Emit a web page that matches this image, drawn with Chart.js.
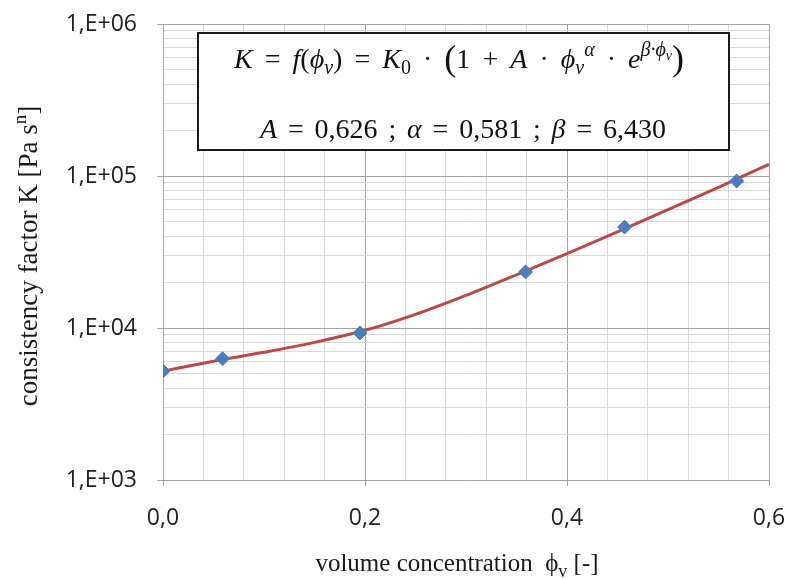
<!DOCTYPE html>
<html>
<head>
<meta charset="utf-8">
<script src="https://cdn.jsdelivr.net/npm/chart.js@4"></script>
<style>
  html, body { margin: 0; padding: 0; background: #fff; }
  canvas { display: block; }
</style>
</head>
<body>
<canvas id="kChart" width="789" height="579"></canvas>
<script>
// measured points (blue diamonds)
const phiMeasured = [0, 0.059, 0.195, 0.359, 0.457, 0.568];
const kMeasured = [5210, 6280, 9270, 23400, 46100, 92700];

// fitted curve, values
const phiCurve = [0, 0.05, 0.1, 0.15, 0.2, 0.25, 0.3, 0.35, 0.4, 0.45, 0.5, 0.55, 0.6];
const kCurve = [5200, 6050, 6920, 8040, 9660, 12300, 16400, 22400, 30900, 42900, 60000, 84300, 119400];

// tick labels
const xMajorTicks = [0, 0.2, 0.4, 0.6];
const xTickLabels = ['0,0', '0,2', '0,4', '0,6'];
const yMajorTicks = [1e3, 1e4, 1e5, 1e6];
const yTickLabels = ['1,E+03', '1,E+04', '1,E+05', '1,E+06'];

// gridline positions (every 0.04 on x, 1..9 per decade on y)
const xGrid = [];
for (let i = 0; i <= 15; i++) xGrid.push(Math.round(i * 4) / 100);
const yGrid = [];
for (let e = 3; e < 6; e++) {
    for (let m = 1; m < 10; m++) yGrid.push(m * Math.pow(10, e));
}
yGrid.push(1e6);

const xMajorIndex = v => xMajorTicks.findIndex(t => Math.abs(t - v) < 1e-9);
const yMajorIndex = v => yMajorTicks.findIndex(t => Math.abs(t - v) < 1e-6);

const minorGrid = '#d9d9d9';
const majorGrid = '#a3a3a3';
const serif = "'Liberation Serif', 'DejaVu Serif', serif";

// small helper to draw text with sub/superscripts
const n = t => ({ t });
const it = t => ({ t, it: true });
const sub = (t, i) => ({ t, it: i, sc: 0.7, dy: 0.22 });
const sup = (t, i) => ({ t, it: i, sc: 0.7, dy: -0.42 });
const big = t => ({ t, sc: 1.3, dy: 0.06 });

function drawRich(c, parts, cx, baseY, size, width) {
    const fontOf = p => (p.it ? 'italic ' : '') + Math.round(size * (p.sc || 1)) + 'px ' + serif;
    let used = 0, gaps = 0;
    parts.forEach(p => {
        if (p === ' ') { gaps++; return; }
        c.font = fontOf(p);
        p.w = c.measureText(p.t).width;
        used += p.w;
    });
    const gap = width ? (width - used) / gaps : size * 0.25;
    let x = cx - (used + gap * gaps) / 2;
    c.textAlign = 'left';
    c.textBaseline = 'alphabetic';
    parts.forEach(p => {
        if (p === ' ') { x += gap; return; }
        c.font = fontOf(p);
        c.fillText(p.t, x, baseY + (p.dy || 0) * size);
        x += p.w;
    });
}

// formula box and axis titles
const extras = {
    id: 'extras',
    afterDraw(chart) {
        const c = chart.ctx;
        c.save();
        c.fillStyle = '#fff';
        c.fillRect(198, 33, 531, 117);
        c.strokeStyle = '#1a1a1a';
        c.lineWidth = 2;
        c.strokeRect(198, 33, 531, 117);

        c.fillStyle = '#111';
        drawRich(c, [it('K'), ' ', n('='), ' ', it('f'), n('('), it('ϕ'), sub('v', true), n(')'), ' ', n('='), ' ',
            it('K'), sub('0'), ' ', n('·'), ' ', big('('), n('1'), ' ', n('+'), ' ', it('A'), ' ', n('·'), ' ',
            it('ϕ'), sub('v', true), sup('α', true), ' ', n('·'), ' ', it('e'), sup('β·ϕ', true),
            { t: 'v', it: true, sc: 0.5, dy: -0.3 }, big(')')], 459, 68, 28, 450);
        drawRich(c, [it('A'), ' ', n('='), ' ', n('0,626'), ' ', n(';'), ' ', it('α'), ' ', n('='), ' ', n('0,581'), ' ',
            n(';'), ' ', it('β'), ' ', n('='), ' ', n('6,430')], 463, 138, 28, 406);

        c.fillStyle = '#1a1a1a';
        drawRich(c, [n('volume concentration'), ' ', ' ', n('ϕ'), sub('v'), ' ', n('[-]')], 457, 571, 25);

        c.translate(37, 256);
        c.rotate(-Math.PI / 2);
        drawRich(c, [n('consistency factor K [Pa s'), { t: 'n', sc: 0.7, dy: -0.4 }, n(']')], 0, 0, 27);
        c.restore();
    }
};

const ctx = document.getElementById('kChart').getContext('2d');

new Chart(ctx, {
    type: 'scatter',
    data: {
        datasets: [{
            label: 'measured',
            data: phiMeasured.map((p, i) => ({ x: p, y: kMeasured[i] })),
            pointStyle: 'rectRot',
            pointRadius: 7,
            pointBorderWidth: 1,
            backgroundColor: '#4a7ebb',
            borderColor: '#4a7ebb',
            showLine: false
        }, {
            label: 'fit',
            data: phiCurve.map((p, i) => ({ x: p, y: kCurve[i] })),
            showLine: true,
            borderColor: '#bb4a47',
            borderWidth: 3,
            pointRadius: 0,
            cubicInterpolationMode: 'monotone'
        }]
    },
    options: {
        responsive: false,
        animation: false,
        layout: { padding: { left: 0, right: 20, top: 24, bottom: 0 } },
        plugins: { legend: { display: false }, tooltip: { enabled: false } },
        scales: {
            x: {
                type: 'linear',
                min: 0,
                max: 0.6,
                afterBuildTicks: s => { s.ticks = xGrid.map(v => ({ value: v })); },
                afterFit: s => { s.height = 99; s.paddingLeft = 0; s.paddingRight = 0; },
                grid: {
                    color: c => xMajorIndex(c.tick.value) > 0 ? majorGrid : minorGrid,
                    tickColor: c => xMajorIndex(c.tick.value) >= 0 ? majorGrid : 'rgba(0,0,0,0)',
                    tickLength: 6
                },
                border: { color: majorGrid },
                ticks: {
                    autoSkip: false,
                    maxRotation: 0,
                    padding: 19,
                    color: '#222',
                    font: { family: 'Open Sans', size: 23 },
                    callback: v => { const i = xMajorIndex(v); return i >= 0 ? xTickLabels[i] : ''; }
                }
            },
            y: {
                type: 'logarithmic',
                min: 1e3,
                max: 1e6,
                afterBuildTicks: s => { s.ticks = yGrid.map(v => ({ value: v })); },
                afterFit: s => { s.width = 163; s.paddingTop = 0; s.paddingBottom = 0; },
                grid: {
                    color: c => yMajorIndex(c.tick.value) > 0 ? majorGrid : minorGrid,
                    tickColor: c => yMajorIndex(c.tick.value) >= 0 ? majorGrid : 'rgba(0,0,0,0)',
                    tickLength: 6
                },
                border: { color: majorGrid },
                ticks: {
                    autoSkip: false,
                    padding: 20,
                    color: '#222',
                    font: { family: 'Open Sans', size: 23 },
                    callback: v => { const i = yMajorIndex(v); return i >= 0 ? yTickLabels[i] : ''; }
                }
            }
        }
    },
    plugins: [extras]
});
</script>
</body>
</html>
